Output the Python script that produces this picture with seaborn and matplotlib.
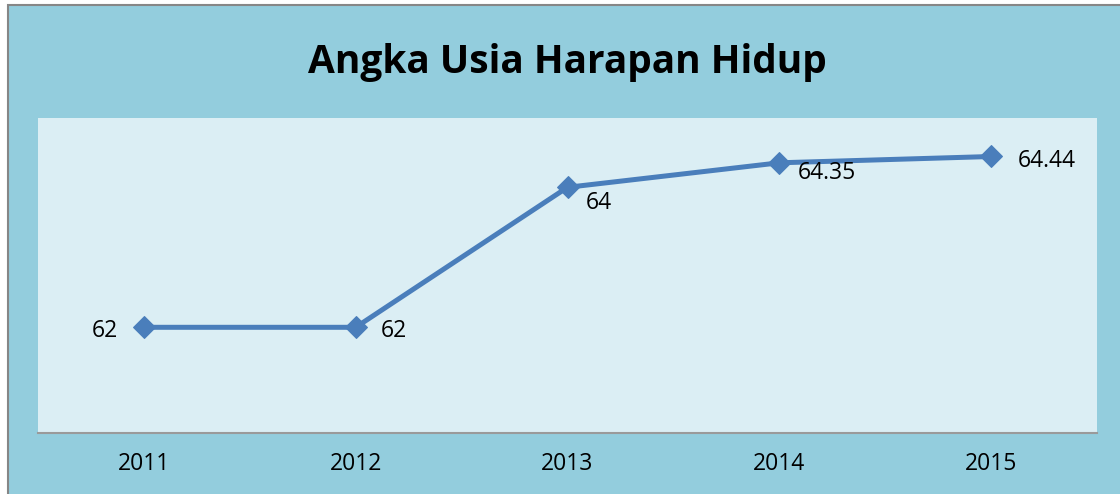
import matplotlib
matplotlib.use("Agg")
import matplotlib.pyplot as plt
import seaborn as sns
import pandas as pd
from matplotlib.patches import Rectangle

# data
years = ["2011", "2012", "2013", "2014", "2015"]
values = [62, 62, 64, 64.35, 64.44]
value_labels = ["62", "62", "64", "64.35", "64.44"]

df = pd.DataFrame({"tahun": years, "uhh": values})

sns.set_style("white")
plt.rcParams["font.family"] = ["Open Sans", "DejaVu Sans"]

fig = plt.figure(figsize=(11.2, 4.94), dpi=100)
fig.patch.set_facecolor("white")

# outer chart frame (drawn below the axes)
fig.patches.append(Rectangle((8 / 1120, -0.05), 1.1, 1 - 5 / 494 + 0.05,
                             transform=fig.transFigure, facecolor="#93CDDD",
                             edgecolor="#868686", linewidth=1.5, zorder=-5))

ax = fig.add_axes([38 / 1120, 61 / 494, 1059 / 1120, 315 / 494])
ax.set_zorder(2)
ax.set_facecolor("#DBEEF4")

sns.lineplot(data=df, x="tahun", y="uhh", ax=ax, sort=False, color="#4A7EBB",
             linewidth=3.6, marker="D", markersize=11, markeredgecolor="#4A7EBB")

# data labels, placed like the original
offsets = [(-19, -3, "right"), (18, -3, "left"), (13, -11.5, "left"),
           (13, -7, "left"), (19, -3, "left")]
for i, (lab, val) in enumerate(zip(value_labels, values)):
    dx, dy, ha = offsets[i]
    ax.annotate(lab, (i, val), xytext=(dx, dy), textcoords="offset points",
                ha=ha, va="center", fontsize=16.5, color="black")

ax.set_xlim(-0.5, 4.5)
ax.set_ylim(60.49, 64.99)
ax.set_yticks([])
ax.set_xlabel("")
ax.set_ylabel("")
ax.tick_params(axis="x", length=0, pad=14, labelsize=16.5, colors="black")

for side in ["top", "right", "left"]:
    ax.spines[side].set_visible(False)
ax.spines["bottom"].set_color("#9A9A9A")
ax.spines["bottom"].set_linewidth(1.5)

fig.text(567 / 1120, 1 - 62 / 494, "Angka Usia Harapan Hidup", ha="center",
         va="center", fontsize=28, fontweight="bold", color="black")

fig.savefig("out.png", dpi=100)
